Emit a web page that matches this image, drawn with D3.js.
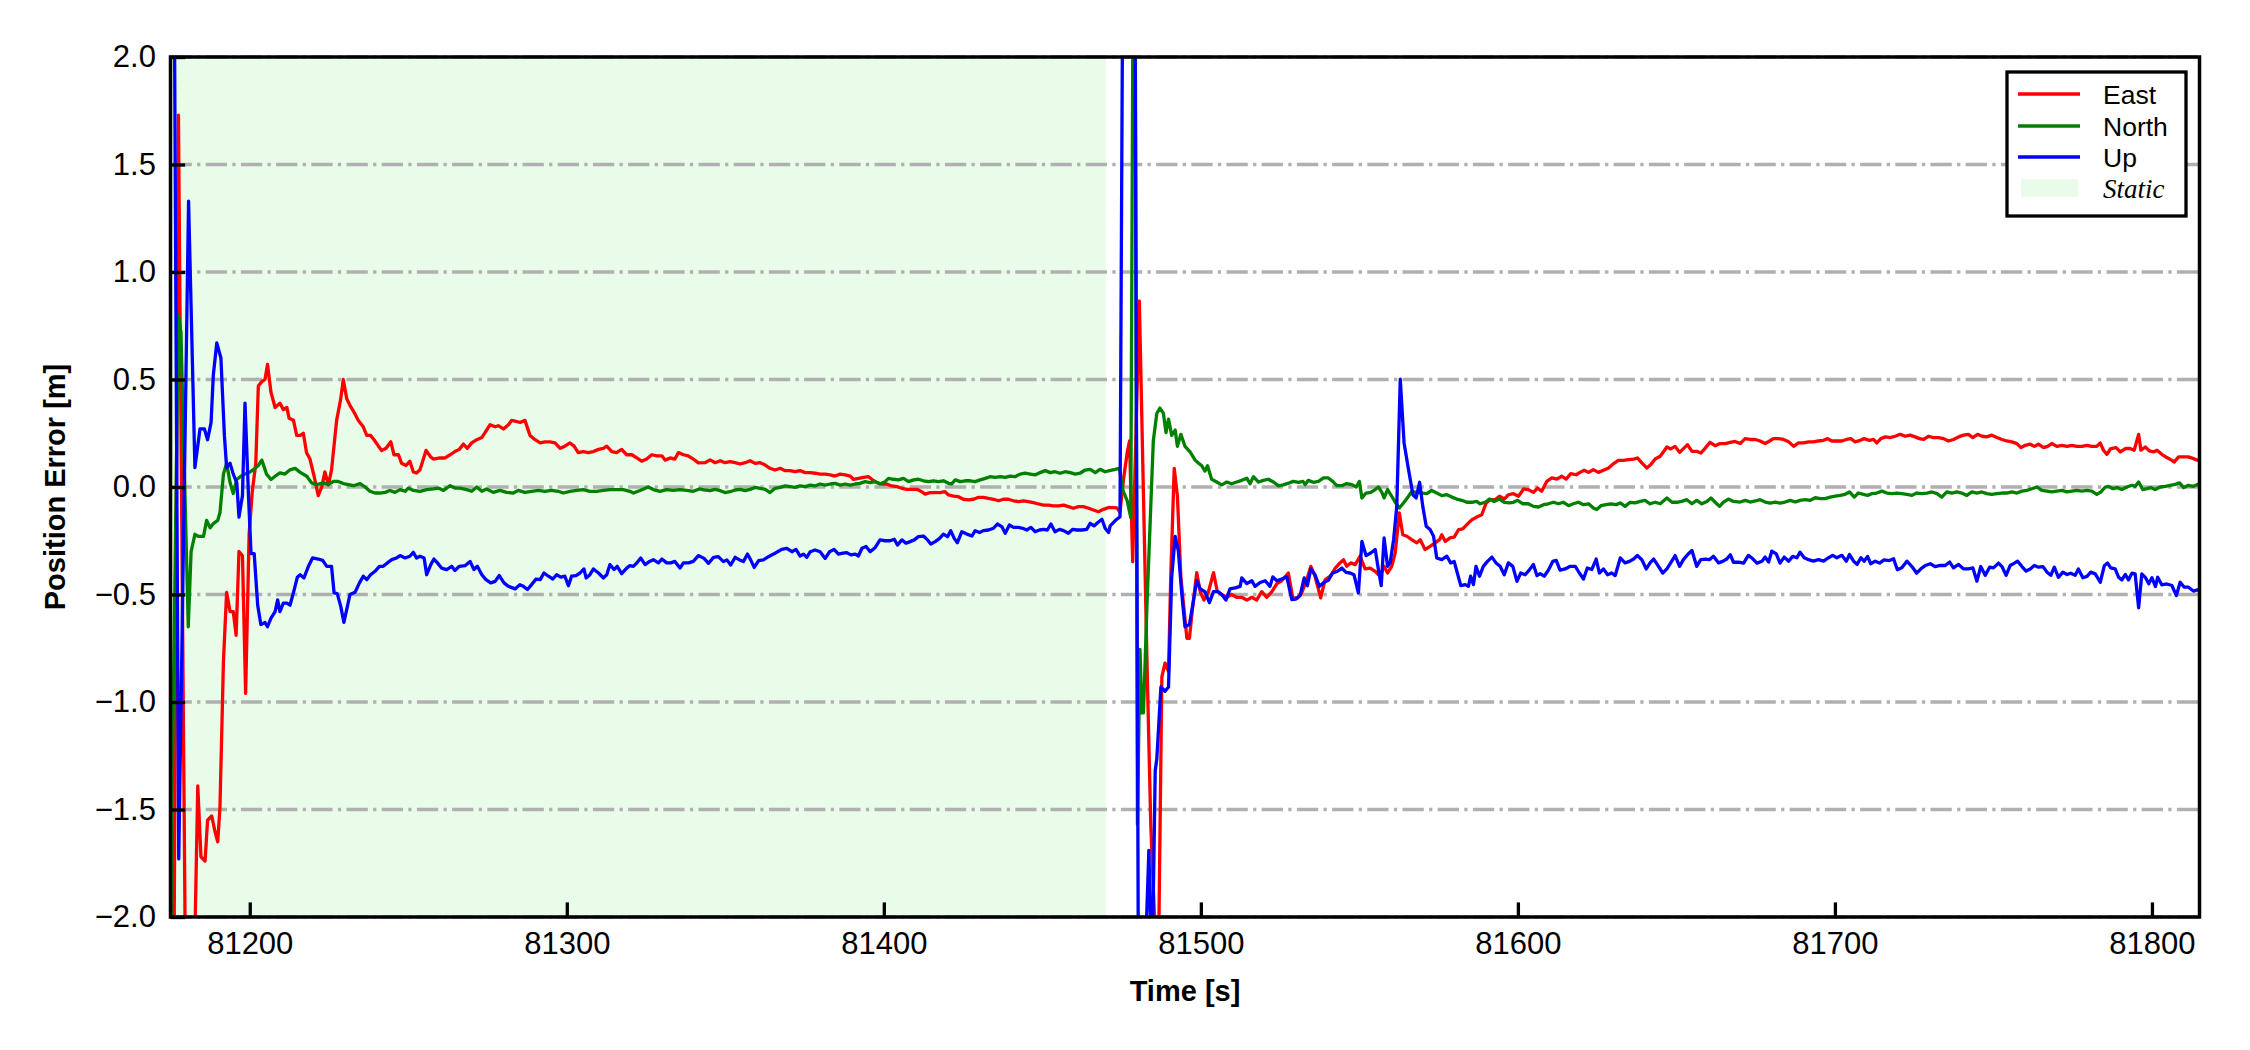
<!DOCTYPE html>
<html>
<head>
<meta charset="utf-8">
<script src="https://cdn.jsdelivr.net/npm/d3@7"></script>
<style>
  body { margin: 0; background: #ffffff; }
  text { font-family: "Liberation Sans", Arial, sans-serif; }
</style>
</head>
<body>
<div id="errorChart"></div>
<script>
// time axis is seconds of day, series times are seconds since timeStart
const timeStart = 81175;
const timeEnd = 81815;
const xTickValues = [81200, 81300, 81400, 81500, 81600, 81700, 81800];
const yTickValues = [-2.0, -1.5, -1.0, -0.5, 0.0, 0.5, 1.0, 1.5, 2.0];
const staticPeriod = [81175, 81470];
const legendLabels = ["East", "North", "Up", "Static"];

// [seconds since timeStart, position error in m]
const eastError = [
  [0,-1.57],[1.0,-2.5],[2.5,1.73],[4.8,-2.4],[7.3,-2.4],[8.6,-1.39],[9.6,-1.72],[10.9,-1.74],[11.7,-1.55],[13.0,-1.53],[14.0,-1.6],[14.9,-1.65],[15.6,-1.49],[16.7,-0.81],[17.7,-0.49],[18.8,-0.58],[19.8,-0.58],[20.7,-0.69],[21.6,-0.3],[22.7,-0.32],[23.7,-0.96],[24.8,-0.22],[25.8,-0.02],[26.9,0.11],[27.7,0.47],[28.8,0.49],[29.8,0.5],[30.6,0.57],[31.7,0.44],[33.0,0.37],[34.5,0.39],[35.6,0.36],[36.7,0.37],[37.4,0.32],[38.8,0.31],[39.8,0.24],
  [40.9,0.24],[41.9,0.25],[42.9,0.16],[44.0,0.13],[45.3,0.05],[46.6,-0.04],[47.7,0.0],[48.7,0.07],[49.8,0.01],[50.8,0.08],[52.4,0.31],[53.7,0.41],[54.5,0.5],[55.6,0.41],[56.6,0.38],[58.2,0.34],[59.2,0.31],[60.8,0.28],[61.9,0.24],[63.1,0.24],[64.2,0.22],[65.6,0.19],[66.6,0.17],[68.0,0.18],[69.5,0.21],[70.5,0.15],[71.9,0.15],[72.9,0.11],[74.3,0.1],[75.5,0.12],[76.6,0.07],[77.6,0.065],[78.7,0.08],[80.6,0.17],[82.1,0.14],[82.9,0.13],[85.0,0.135],[86.6,0.135],[88.2,0.15],[89.7,0.165],[91.1,0.175],[92.4,0.2],[93.6,0.18],[95.0,0.205],[96.6,0.22],[98.2,0.23],[99.5,0.26],[100.8,0.29],[102.4,0.28],[103.4,0.285],[105.0,0.27],[106.6,0.29],[107.6,0.31],[109.0,0.305],[110.3,0.3],[111.8,0.31],[113.4,0.24],[115.0,0.22],[116.6,0.205],[118.1,0.21],[119.7,0.21],[121.3,0.205],[122.9,0.18],[124.4,0.19],[126.0,0.205],[127.3,0.19],[128.6,0.16],[130.2,0.165],[131.8,0.16],[133.4,0.165],[135.0,0.175],[136.5,0.18],[137.6,0.19],[139.2,0.165],[140.7,0.16],[142.3,0.175],[143.9,0.15],[145.5,0.15],[147.1,0.135],[148.6,0.12],[150.2,0.13],[151.8,0.15],[153.4,0.145],[155.0,0.145],[156.0,0.125],[157.6,0.135],[159.1,0.13],[160.2,0.16],[161.8,0.15],[163.3,0.145],[164.9,0.13],[166.5,0.112],
  [168.6,0.113],[170.2,0.126],[171.8,0.113],[173.4,0.122],[174.9,0.113],[176.5,0.118],[178.1,0.113],[179.7,0.107],[181.3,0.113],[182.8,0.122],[184.4,0.11],[186.0,0.113],[187.6,0.102],[189.1,0.087],[190.7,0.079],[192.3,0.087],[193.9,0.076],[195.4,0.076],[197.0,0.071],[198.6,0.076],[200.2,0.067],[201.8,0.067],[203.3,0.064],[204.9,0.06],[206.5,0.06],[208.1,0.056],[209.6,0.051],[211.2,0.06],[212.8,0.056],[214.4,0.051],[215.4,0.036],[217.0,0.04],[218.6,0.045],[220.2,0.048],[221.2,0.036],[222.8,0.02],[224.4,0.014],[225.9,0.014],[227.5,0.005],[229.1,0.002],[230.7,-0.006],[232.3,-0.011],[233.8,-0.011],[235.4,-0.011],[237.0,-0.022],[238.0,-0.033],[239.6,-0.026],[241.2,-0.026],[242.8,-0.026],[244.3,-0.022],[245.4,-0.037],[247.0,-0.042],[248.5,-0.045],[250.1,-0.057],[251.7,-0.06],[253.3,-0.057],[254.9,-0.048],[256.4,-0.048],[258.0,-0.053],[259.6,-0.057],[261.2,-0.064],[262.7,-0.057],[264.3,-0.057],[265.9,-0.064],[267.5,-0.068],[269.1,-0.064],[270.6,-0.068],[272.2,-0.073],[273.8,-0.079],[275.4,-0.084],[276.9,-0.084],[278.5,-0.088],[280.1,-0.088],[281.7,-0.084],[283.2,-0.091],[284.8,-0.099],[286.4,-0.091],[288.0,-0.091],[289.6,-0.099],[291.1,-0.107],[292.7,-0.115],[294.3,-0.104],[295.9,-0.095],
  [298.5,-0.097],[299.5,-0.117],[300.6,0.036],[301.8,0.163],[302.5,0.214],[303.5,-0.347],[305.6,0.865],[308.0,-0.806],[309.2,-1.57],[310.6,-2.08],[311.1,-2.2],[311.8,-2.0],[312.7,-0.883],[313.7,-0.819],[314.8,-0.857],[315.5,-0.42],[316.6,0.087],[317.6,-0.041],[318.7,-0.42],[320.6,-0.704],[321.4,-0.704],[322.1,-0.602],[323.7,-0.398],[324.8,-0.487],[326.0,-0.526],[327.4,-0.487],[329.0,-0.398],[330.2,-0.487],[331.6,-0.5],[333.2,-0.513],[334.7,-0.5],[336.3,-0.513],[337.9,-0.513],[339.5,-0.526],[341.1,-0.513],[342.6,-0.526],[344.2,-0.487],[345.8,-0.513],[347.4,-0.487],[349.0,-0.449],[350.5,-0.436],
  [352.6,-0.4],[354.0,-0.516],[355.5,-0.516],[356.8,-0.493],[358.4,-0.431],[359.7,-0.369],[361.0,-0.415],[362.8,-0.516],[364.2,-0.431],[365.8,-0.415],[367.4,-0.377],[368.9,-0.353],[370.0,-0.338],[371.0,-0.369],[372.3,-0.353],[373.7,-0.361],[375.2,-0.322],[376.8,-0.381],[378.4,-0.377],[380.0,-0.392],[381.5,-0.415],[382.8,-0.369],[383.9,-0.4],[385.2,-0.369],[386.3,-0.307],[387.6,-0.121],[388.7,-0.222],[390.0,-0.229],[391.5,-0.245],[393.1,-0.26],[394.2,-0.245],[395.7,-0.291],[397.3,-0.276],[398.9,-0.26],[400.3,-0.245],[401.0,-0.222],[402.1,-0.253],[403.6,-0.237],[404.9,-0.233],[406.3,-0.198],[407.6,-0.195],[408.9,-0.175],[410.5,-0.152],[412.0,-0.14],[413.6,-0.129],[415.0,-0.074],[416.2,-0.059],[417.8,-0.059],[419.2,-0.043],[420.7,-0.056],[422.0,-0.036],[423.6,-0.031],[425.2,-0.043],[426.8,-0.009],[428.3,-0.012],[429.9,-0.025],[431.2,-0.005],[432.5,-0.02],[434.1,0.026],[435.7,0.042],[437.3,0.037],[438.9,0.05],[440.2,0.037],[441.7,0.062],[443.4,0.057],[444.6,0.068],[445.9,0.078],[447.3,0.068],[448.8,0.081],[450.4,0.068],[452.0,0.078],[453.6,0.088],[455.2,0.109],[456.7,0.124],[458.3,0.124],[459.9,0.127],[461.5,0.13],[462.7,0.135],[464.1,0.112],[465.7,0.088],[466.9,0.104],[468.3,0.13],[469.9,0.143],[472.0,0.186],[473.2,0.177],[474.6,0.189],[476.0,0.161],[477.4,0.181],[478.5,0.197],[479.9,0.166],[481.4,0.166],[482.7,0.158],[484.1,0.181],[485.6,0.208],[487.2,0.192],[488.8,0.202],[490.4,0.202],[492.0,0.208],[493.5,0.212],
  [495.1,0.202],[496.7,0.225],[498.3,0.221],[499.9,0.221],[501.4,0.214],[503.0,0.202],[504.4,0.214],[505.6,0.225],[507.2,0.225],[508.8,0.221],[510.4,0.21],[512.0,0.189],[513.5,0.205],[515.1,0.205],[516.7,0.21],[518.2,0.21],[519.8,0.214],[521.4,0.217],[522.7,0.225],[524.0,0.214],[525.6,0.214],[527.2,0.214],[528.6,0.221],[530.0,0.225],[531.4,0.21],[533.0,0.217],[534.2,0.225],[535.9,0.217],[537.2,0.221],[538.2,0.205],[539.5,0.225],[540.9,0.233],[542.4,0.23],[544.0,0.236],[545.6,0.245],[547.2,0.236],[548.7,0.241],[550.3,0.233],[551.7,0.225],[553.0,0.221],[554.5,0.236],[556.1,0.23],[557.7,0.23],[559.3,0.225],[560.8,0.214],[562.4,0.221],[564.0,0.233],[565.6,0.241],[567.1,0.245],[568.5,0.23],[570.0,0.245],[571.4,0.236],[572.9,0.233],[574.5,0.241],[576.1,0.23],[577.7,0.221],[579.2,0.214],[580.8,0.21],[582.4,0.202],[583.7,0.183],[585.0,0.194],[586.6,0.199],[587.9,0.189],[589.2,0.199],[590.8,0.183],[592.1,0.189],[593.4,0.202],[595.0,0.189],[596.6,0.194],[598.2,0.189],[599.7,0.194],[601.3,0.189],[602.9,0.189],[604.5,0.194],[606.0,0.189],[607.6,0.189],[608.7,0.205],[609.7,0.171],[610.8,0.152],[612.0,0.179],[613.7,0.183],[615.0,0.163],[616.6,0.179],[618.1,0.179],[619.4,0.171],[620.8,0.245],[621.5,0.171],[622.9,0.186],[624.2,0.168],[625.5,0.163],[626.6,0.171],[628.1,0.152],[629.7,0.137],[631.3,0.124],[632.0,0.116],[633.4,0.14],[635.0,0.14],[636.5,0.14],[638.1,0.132],[639.4,0.124],[640,0.125]
];

const northError = [
  [0,-2.4],[0.4,-1.55],[2.5,0.8],[3.3,0.72],[4.4,0.06],[5.6,-0.65],[6.5,-0.3],[7.7,-0.22],[8.8,-0.23],[10.4,-0.23],[11.4,-0.155],[12.5,-0.19],[13.5,-0.17],[14.9,-0.155],[15.6,-0.12],[16.7,0.06],[17.7,0.11],[18.8,0.02],[19.8,-0.03],[20.9,0.035],[22.2,0.05],[23.5,0.06],[25.1,0.07],[26.7,0.087],[27.7,0.1],[28.8,0.125],[30.3,0.06],[31.7,0.035],[33.0,0.05],[34.5,0.066],[36.1,0.06],[37.7,0.08],[39.3,0.087],
  [40.9,0.068],[43.0,0.05],[44.5,0.019],[46.1,0.011],[48.2,0.019],[49.8,0.011],[51.4,0.026],[52.9,0.026],[54.5,0.016],[56.1,0.011],[57.7,0.006],[59.8,0.016],[61.4,0.0],[62.9,-0.02],[64.5,-0.028],[66.1,-0.028],[67.7,-0.025],[69.2,-0.016],[70.8,-0.025],[72.4,-0.012],[74.0,-0.02],[75.0,-0.005],[76.6,-0.016],[78.7,-0.02],[80.8,-0.012],[82.9,-0.009],[84.5,-0.005],[86.1,-0.016],[88.2,0.006],[89.7,-0.005],[91.3,-0.005],[93.4,-0.012],[95.0,-0.02],[96.6,0.0],[98.2,-0.02],[99.7,-0.009],[101.8,-0.025],[103.9,-0.016],[106.0,-0.025],[108.1,-0.028],[109.7,-0.016],[111.8,-0.025],[113.9,-0.02],[116.0,-0.016],[118.1,-0.02],[120.2,-0.016],[122.3,-0.02],[123.9,-0.028],[126.0,-0.02],[128.1,-0.016],[130.2,-0.012],[132.3,-0.02],[134.4,-0.02],[136.5,-0.016],[138.6,-0.012],[140.7,-0.012],[142.8,-0.012],[144.9,-0.02],[146.0,-0.028],[148.1,-0.016],[150.7,0.0],[152.3,-0.012],[154.4,-0.02],[156.5,-0.012],[158.6,-0.016],[160.7,-0.012],[162.8,-0.016],[164.9,-0.02],[166.8,-0.009],
  [168.6,-0.014],[170.2,-0.017],[171.8,-0.011],[173.4,-0.017],[174.9,-0.026],[176.5,-0.022],[178.1,-0.014],[179.7,-0.011],[181.3,-0.017],[182.8,-0.011],[184.4,-0.002],[186.0,-0.006],[187.6,-0.011],[189.1,-0.026],[190.7,-0.006],[192.3,-0.002],[193.9,0.005],[195.4,0.002],[197.0,-0.002],[198.6,0.005],[200.2,0.002],[201.8,0.009],[203.3,0.005],[204.9,0.014],[206.5,0.009],[208.1,0.014],[209.6,0.017],[211.2,0.009],[212.8,0.014],[214.4,0.009],[216.0,0.014],[217.5,0.017],[219.1,0.025],[220.7,0.02],[222.3,0.025],[223.8,0.014],[225.4,0.025],[226.5,0.04],[228.0,0.036],[229.6,0.033],[231.2,0.04],[232.8,0.025],[234.4,0.033],[235.9,0.036],[237.5,0.029],[239.1,0.025],[240.7,0.029],[242.2,0.025],[243.8,0.029],[245.4,0.017],[246.4,0.014],[247.5,0.033],[249.1,0.025],[250.7,0.029],[252.2,0.029],[253.8,0.025],[255.4,0.033],[257.0,0.04],[258.5,0.048],[260.1,0.045],[261.7,0.048],[263.3,0.045],[264.8,0.051],[266.4,0.048],[268.0,0.06],[269.6,0.064],[271.2,0.06],[272.7,0.056],[274.3,0.067],[275.9,0.076],[277.5,0.067],[279.0,0.071],[280.6,0.064],[282.2,0.071],[283.8,0.067],[285.4,0.06],[286.9,0.064],[288.5,0.079],[290.1,0.082],[291.7,0.067],[293.2,0.082],[294.8,0.071],[296.2,0.076],
  [298.0,0.082],[299.3,0.087],[300.4,-0.015],[301.8,-0.066],[302.9,-0.143],[303.6,2.3],[304.3,2.3],[305.0,-1.57],[305.8,-0.755],[306.4,-1.05],[306.9,-1.05],[308.0,-0.551],[309.0,-0.168],[310.0,0.214],[311.1,0.342],[312.1,0.367],[313.2,0.342],[314.0,0.253],[314.8,0.316],[315.8,0.24],[316.9,0.265],[317.6,0.189],[318.7,0.245],[320.0,0.189],[321.6,0.163],[323.2,0.125],[324.2,0.112],[325.3,0.099],[326.3,0.074],[327.1,0.099],[328.4,0.036],[330.0,0.023],[331.6,0.01],[333.2,0.023],[334.7,0.015],[336.3,0.023],[337.9,0.031],[339.5,0.041],[340.5,0.015],[341.6,0.048],[343.2,0.023],[344.7,0.031],[346.3,0.036],[347.9,0.023],[349.5,0.005],[351.0,0.01],
  [352.9,0.019],[354.2,0.026],[355.8,0.022],[357.2,0.026],[357.9,0.011],[358.9,0.031],[360.5,0.022],[362.1,0.026],[363.7,0.042],[365.2,0.042],[366.6,0.026],[367.9,0.006],[369.5,0.006],[371.0,0.016],[372.6,0.011],[374.0,0.0],[375.0,0.026],[375.8,-0.051],[377.1,-0.028],[378.6,-0.025],[380.0,-0.012],[381.0,0.0],[382.1,-0.025],[382.8,-0.051],[383.9,-0.012],[385.2,-0.043],[386.3,-0.071],[387.6,-0.098],[389.1,-0.071],[390.5,-0.043],[391.5,-0.02],[393.1,-0.025],[394.7,-0.028],[396.3,-0.031],[397.8,-0.016],[399.4,-0.028],[401.0,-0.04],[402.6,-0.036],[404.2,-0.047],[405.7,-0.056],[407.3,-0.062],[408.9,-0.071],[410.5,-0.071],[412.0,-0.067],[413.1,-0.078],[414.7,-0.071],[416.0,-0.056],[417.5,-0.067],[419.2,-0.056],[420.7,-0.071],[422.3,-0.074],[423.6,-0.071],[424.9,-0.062],[426.6,-0.078],[428.3,-0.078],[429.9,-0.09],[431.5,-0.093],[433.1,-0.082],[434.6,-0.078],[436.2,-0.071],[437.8,-0.078],[439.4,-0.071],[441.0,-0.087],[442.5,-0.078],[444.1,-0.071],[445.7,-0.082],[447.3,-0.078],[448.8,-0.098],[449.9,-0.105],[451.2,-0.087],[452.8,-0.082],[454.3,-0.078],[456.0,-0.082],[457.3,-0.074],[458.8,-0.09],[460.4,-0.071],[462.0,-0.074],[463.6,-0.067],[465.1,-0.062],[466.7,-0.078],[468.3,-0.071],[469.9,-0.078],[472.0,-0.051],[473.6,-0.071],[475.1,-0.071],[476.7,-0.067],[478.3,-0.059],[479.9,-0.078],[481.4,-0.062],[483.0,-0.078],[484.6,-0.067],[485.9,-0.051],[487.2,-0.071],[488.6,-0.09],[489.8,-0.071],[491.4,-0.056],[493.0,-0.067],
  [495.1,-0.07],[496.7,-0.062],[498.3,-0.07],[499.9,-0.065],[501.4,-0.059],[503.0,-0.07],[504.6,-0.075],[506.2,-0.07],[507.7,-0.075],[509.3,-0.07],[510.9,-0.062],[512.5,-0.07],[514.0,-0.062],[515.6,-0.059],[517.2,-0.062],[518.8,-0.05],[520.4,-0.054],[521.9,-0.054],[523.5,-0.047],[525.1,-0.043],[526.7,-0.039],[528.2,-0.034],[529.6,-0.023],[531.1,-0.047],[532.4,-0.028],[534.0,-0.034],[535.3,-0.039],[536.6,-0.031],[538.2,-0.028],[539.8,-0.019],[541.4,-0.028],[543.0,-0.031],[544.5,-0.028],[546.1,-0.031],[547.7,-0.034],[549.3,-0.039],[550.8,-0.028],[552.4,-0.031],[554.0,-0.028],[555.6,-0.023],[557.2,-0.031],[558.7,-0.047],[560.3,-0.023],[561.9,-0.028],[563.5,-0.023],[565.0,-0.028],[566.6,-0.039],[568.2,-0.023],[569.8,-0.028],[571.3,-0.023],[572.9,-0.031],[574.5,-0.034],[576.1,-0.031],[577.7,-0.028],[579.2,-0.028],[580.8,-0.023],[582.4,-0.028],[584.0,-0.019],[585.5,-0.016],[587.1,-0.008],[588.7,0.0],[590.3,-0.016],[591.9,-0.019],[593.4,-0.023],[595.0,-0.019],[596.6,-0.016],[598.2,-0.023],[599.7,-0.019],[601.3,-0.016],[602.9,-0.019],[604.5,-0.016],[606.0,-0.019],[607.6,-0.034],[608.9,-0.023],[610.3,0.0],[611.3,0.003],[612.7,-0.008],[614.0,-0.003],[615.5,-0.012],[617.1,0.0],[618.7,0.008],[619.7,0.003],[620.8,0.023],[622.1,-0.012],[623.4,-0.008],[624.7,-0.003],[626.0,-0.012],[627.6,0.0],[629.2,0.003],[630.8,0.008],[632.3,0.012],[633.7,0.019],[635.0,-0.003],[636.5,0.008],[638.1,0.003],[639.4,0.012],[640,0.01]
];

const upError = [
  [0,2.6],[1.2,2.3],[2.6,-1.73],[5.7,1.33],[7.7,0.09],[9.3,0.27],[10.7,0.27],[11.7,0.22],[12.8,0.3],[13.5,0.52],[14.6,0.67],[15.9,0.6],[17.0,0.24],[17.7,0.09],[18.8,0.11],[19.8,0.06],[20.9,0.02],[21.6,-0.14],[22.7,-0.04],[23.5,0.39],[24.6,-0.04],[25.4,-0.31],[26.4,-0.31],[27.5,-0.55],[28.5,-0.64],[29.8,-0.63],[30.6,-0.65],[31.7,-0.61],[33.0,-0.58],[33.8,-0.525],[34.5,-0.58],[35.6,-0.54],[36.7,-0.54],[37.7,-0.55],[38.8,-0.49],[40.0,-0.42],
  [40.9,-0.408],[42.1,-0.423],[43.5,-0.369],[44.8,-0.33],[46.6,-0.335],[48.0,-0.341],[49.3,-0.369],[50.8,-0.369],[51.6,-0.493],[52.6,-0.496],[53.7,-0.555],[54.7,-0.63],[55.8,-0.555],[56.6,-0.5],[58.2,-0.49],[59.6,-0.446],[60.8,-0.415],[61.9,-0.431],[63.1,-0.408],[64.5,-0.392],[65.9,-0.369],[67.1,-0.369],[68.4,-0.353],[69.8,-0.338],[71.3,-0.33],[72.4,-0.319],[74.0,-0.33],[75.5,-0.322],[76.6,-0.304],[77.6,-0.33],[78.7,-0.322],[80.0,-0.33],[80.8,-0.408],[82.1,-0.361],[83.1,-0.335],[84.2,-0.353],[85.5,-0.377],[87.1,-0.384],[88.7,-0.369],[89.7,-0.388],[91.1,-0.369],[92.9,-0.366],[94.5,-0.346],[95.7,-0.384],[96.8,-0.369],[98.2,-0.408],[99.5,-0.431],[101.0,-0.446],[102.4,-0.439],[103.7,-0.412],[105.2,-0.446],[106.6,-0.462],[108.7,-0.474],[110.2,-0.454],[111.3,-0.462],[112.6,-0.477],[113.9,-0.454],[115.3,-0.428],[116.6,-0.431],[117.8,-0.4],[119.2,-0.415],[120.6,-0.428],[121.8,-0.408],[123.1,-0.419],[124.4,-0.415],[125.5,-0.459],[126.5,-0.415],[127.9,-0.412],[129.2,-0.4],[130.4,-0.381],[131.1,-0.423],[132.3,-0.408],[133.4,-0.381],[135.0,-0.4],[136.5,-0.423],[137.6,-0.408],[138.6,-0.361],[139.9,-0.384],[140.9,-0.369],[142.3,-0.403],[143.9,-0.377],[144.9,-0.366],[146.0,-0.369],[147.1,-0.353],[148.3,-0.33],[149.7,-0.361],[151.1,-0.346],[152.3,-0.338],[153.9,-0.353],[155.0,-0.335],[156.5,-0.353],[157.8,-0.353],[159.1,-0.346],[160.7,-0.377],[161.8,-0.353],[163.4,-0.353],[164.9,-0.346],[166.5,-0.319],
  [168.3,-0.332],[169.7,-0.355],[171.3,-0.327],[172.8,-0.324],[174.4,-0.347],[175.5,-0.339],[176.7,-0.363],[178.1,-0.327],[179.5,-0.339],[180.7,-0.347],[182.0,-0.312],[183.0,-0.339],[184.1,-0.374],[185.5,-0.343],[187.0,-0.339],[188.6,-0.324],[190.2,-0.312],[191.5,-0.301],[192.8,-0.29],[194.4,-0.285],[196.0,-0.301],[197.3,-0.29],[198.6,-0.321],[199.7,-0.312],[200.7,-0.327],[201.8,-0.301],[203.3,-0.293],[204.9,-0.301],[206.5,-0.332],[207.9,-0.301],[209.3,-0.29],[210.7,-0.312],[212.1,-0.308],[213.3,-0.305],[214.6,-0.316],[216.0,-0.312],[217.0,-0.321],[218.1,-0.285],[219.4,-0.277],[220.7,-0.301],[222.3,-0.281],[223.8,-0.246],[225.4,-0.25],[227.0,-0.25],[228.3,-0.243],[229.3,-0.27],[230.7,-0.246],[232.0,-0.262],[233.3,-0.254],[234.6,-0.246],[235.9,-0.231],[237.5,-0.228],[238.8,-0.246],[239.8,-0.265],[241.2,-0.254],[242.6,-0.239],[243.8,-0.219],[245.1,-0.231],[246.1,-0.203],[247.2,-0.239],[248.2,-0.259],[249.6,-0.208],[251.2,-0.219],[252.8,-0.228],[253.8,-0.203],[255.2,-0.212],[256.4,-0.203],[258.0,-0.2],[259.6,-0.192],[260.8,-0.172],[262.2,-0.184],[263.3,-0.215],[264.6,-0.177],[265.9,-0.188],[267.5,-0.188],[268.8,-0.192],[270.1,-0.2],[271.4,-0.188],[272.7,-0.208],[274.1,-0.2],[275.4,-0.197],[276.6,-0.2],[277.7,-0.172],[279.0,-0.208],[280.4,-0.197],[281.7,-0.203],[283.2,-0.215],[284.6,-0.197],[285.9,-0.2],[287.5,-0.2],[289.0,-0.197],[290.1,-0.169],[291.3,-0.181],[292.4,-0.166],[293.8,-0.15],[294.8,-0.192],[295.9,-0.212],
  [296.4,-0.181],[298.0,-0.156],[299.5,-0.138],[300.4,2.5],[302.0,2.6],[304.2,2.4],[305.3,-2.3],[307.0,-2.4],[308.6,-1.69],[309.6,-2.3],[310.6,-1.32],[311.1,-1.265],[312.4,-0.93],[313.7,-0.95],[314.8,-0.93],[315.8,-0.42],[316.9,-0.23],[317.9,-0.297],[319.0,-0.5],[320.0,-0.65],[321.4,-0.64],[322.7,-0.526],[323.7,-0.436],[324.8,-0.474],[326.3,-0.487],[327.7,-0.538],[329.0,-0.487],[330.5,-0.487],[331.6,-0.5],[332.9,-0.526],[334.2,-0.474],[335.8,-0.469],[337.4,-0.462],[337.9,-0.423],[339.5,-0.449],[341.1,-0.436],[342.1,-0.462],[343.7,-0.444],[345.3,-0.436],[346.8,-0.462],[347.7,-0.418],[349.0,-0.436],[350.5,-0.428],[352.1,-0.418],
  [353.7,-0.524],[355.0,-0.521],[356.3,-0.505],[357.6,-0.423],[358.6,-0.459],[359.7,-0.381],[361.0,-0.408],[362.4,-0.462],[363.9,-0.443],[365.2,-0.434],[366.6,-0.4],[368.1,-0.392],[369.5,-0.377],[370.8,-0.397],[372.1,-0.4],[373.3,-0.408],[374.7,-0.493],[375.8,-0.253],[377.1,-0.319],[378.6,-0.307],[380.0,-0.291],[381.0,-0.384],[381.9,-0.459],[382.8,-0.237],[383.9,-0.369],[384.7,-0.353],[385.8,-0.245],[386.8,-0.09],[387.9,0.502],[389.1,0.205],[390.5,0.081],[391.9,-0.036],[392.9,-0.051],[394.0,0.022],[395.0,-0.09],[396.1,-0.183],[397.3,-0.198],[398.4,-0.229],[399.4,-0.33],[401.0,-0.338],[402.6,-0.322],[403.8,-0.353],[404.9,-0.346],[405.9,-0.4],[407.0,-0.459],[408.4,-0.454],[409.4,-0.462],[410.1,-0.415],[411.0,-0.454],[411.8,-0.369],[412.9,-0.415],[414.1,-0.369],[415.4,-0.346],[416.8,-0.326],[418.1,-0.353],[419.4,-0.369],[420.7,-0.408],[422.0,-0.353],[423.4,-0.369],[424.7,-0.439],[425.9,-0.4],[427.3,-0.408],[428.7,-0.384],[429.9,-0.361],[431.0,-0.412],[432.0,-0.403],[433.3,-0.415],[434.6,-0.387],[436.0,-0.346],[437.1,-0.341],[438.3,-0.387],[439.9,-0.381],[441.5,-0.369],[443.1,-0.369],[444.4,-0.4],[445.7,-0.428],[446.9,-0.377],[448.3,-0.384],[449.7,-0.335],[450.7,-0.4],[452.0,-0.381],[453.3,-0.408],[454.6,-0.4],[455.7,-0.412],[457.3,-0.33],[458.8,-0.353],[460.2,-0.346],[461.5,-0.335],[462.7,-0.319],[464.1,-0.338],[465.5,-0.381],[466.7,-0.353],[467.8,-0.335],[469.0,-0.361],[470.7,-0.4],[472.0,-0.381],[473.2,-0.353],[474.6,-0.319],[476.0,-0.369],[477.2,-0.338],[478.5,-0.315],[479.9,-0.295],[481.4,-0.369],[482.7,-0.338],[484.1,-0.335],[485.4,-0.338],[486.7,-0.322],[488.3,-0.353],[489.6,-0.346],[490.9,-0.335],[492.0,-0.315],[493.0,-0.35],
  [494.6,-0.349],[496.2,-0.354],[497.7,-0.318],[499.1,-0.334],[500.4,-0.354],[502.0,-0.345],[503.0,-0.326],[504.1,-0.349],[505.1,-0.298],[506.5,-0.311],[507.7,-0.354],[509.0,-0.326],[510.4,-0.345],[511.7,-0.323],[513.0,-0.329],[514.0,-0.303],[515.3,-0.329],[516.7,-0.338],[518.2,-0.345],[519.8,-0.338],[521.4,-0.345],[523.0,-0.329],[524.3,-0.318],[525.6,-0.329],[527.2,-0.318],[528.6,-0.345],[529.6,-0.314],[530.9,-0.345],[532.0,-0.36],[533.2,-0.329],[534.2,-0.345],[535.3,-0.323],[536.3,-0.357],[537.7,-0.345],[539.1,-0.354],[540.5,-0.339],[542.2,-0.342],[543.5,-0.334],[544.7,-0.385],[546.1,-0.376],[547.7,-0.345],[549.3,-0.37],[550.8,-0.401],[552.1,-0.381],[553.5,-0.365],[555.1,-0.357],[556.6,-0.37],[558.2,-0.365],[559.8,-0.365],[561.2,-0.349],[562.4,-0.376],[564.0,-0.36],[565.6,-0.381],[567.1,-0.381],[568.5,-0.376],[569.8,-0.438],[571.0,-0.37],[572.4,-0.411],[573.8,-0.373],[575.0,-0.376],[576.6,-0.354],[577.7,-0.37],[579.0,-0.411],[580.3,-0.365],[581.6,-0.354],[582.6,-0.345],[584.0,-0.37],[585.3,-0.391],[586.6,-0.381],[587.9,-0.365],[589.2,-0.373],[590.6,-0.37],[591.9,-0.396],[593.1,-0.411],[594.2,-0.373],[595.5,-0.42],[596.9,-0.396],[598.2,-0.407],[599.4,-0.401],[600.8,-0.411],[601.8,-0.381],[603.2,-0.422],[604.5,-0.416],[605.7,-0.396],[607.1,-0.404],[608.7,-0.443],[610.0,-0.365],[611.0,-0.354],[612.0,-0.376],[613.4,-0.381],[614.5,-0.42],[615.5,-0.432],[616.6,-0.407],[617.6,-0.432],[618.7,-0.401],[619.7,-0.404],[620.8,-0.562],[621.8,-0.404],[622.9,-0.42],[624.0,-0.45],[625.0,-0.422],[626.1,-0.463],[626.8,-0.42],[628.1,-0.455],[629.7,-0.451],[631.3,-0.458],[632.7,-0.505],[633.9,-0.443],[635.2,-0.466],[636.5,-0.466],[638.1,-0.484],[639.4,-0.478],[640,-0.48]
];

const series = [
  {name: "East", values: eastError, color: "#ff0000"},
  {name: "North", values: northError, color: "#008000"},
  {name: "Up", values: upError, color: "#0000ff"}
];

let plot = {left: 170.5, right: 2199.5, top: 57, bottom: 917};
let tickLength = 14.6;
let staticFill = "#e9fce9";

function drawChart() {
  let svg = d3.select("#errorChart")
    .append("svg")
    .attr("width", 2250)
    .attr("height", 1050);

  let xScale = d3.scaleLinear().domain([timeStart, timeEnd]).range([plot.left, plot.right]);
  let yScale = d3.scaleLinear().domain([-2, 2]).range([plot.bottom, plot.top]);

  svg.append("defs").append("clipPath").attr("id", "plotClip")
    .append("rect")
    .attr("x", plot.left).attr("y", plot.top)
    .attr("width", plot.right - plot.left).attr("height", plot.bottom - plot.top);

  // static period shading
  svg.append("rect")
    .attr("x", xScale(staticPeriod[0]))
    .attr("y", plot.top)
    .attr("width", xScale(staticPeriod[1]) - xScale(staticPeriod[0]))
    .attr("height", plot.bottom - plot.top)
    .attr("fill", staticFill);

  // dash-dot grid on y ticks
  svg.append("g").selectAll("line")
    .data(yTickValues)
    .enter()
    .append("line")
    .attr("x1", plot.left).attr("x2", plot.right)
    .attr("y1", d => yScale(d)).attr("y2", d => yScale(d))
    .attr("stroke", "#b0b0b0")
    .attr("stroke-width", 3.3)
    .attr("stroke-dasharray", "21.3 5.3 3.3 5.3");

  let line = d3.line()
    .x(d => xScale(timeStart + d[0]))
    .y(d => yScale(d[1]));

  let lines = svg.append("g").attr("clip-path", "url(#plotClip)");
  for (let s of series) {
    lines.append("path")
      .attr("fill", "none")
      .attr("stroke", s.color)
      .attr("stroke-width", 3.3)
      .attr("stroke-linejoin", "round")
      .attr("d", line(s.values));
  }

  // axes with inward ticks
  let xAxis = svg.append("g")
    .attr("transform", "translate(0," + plot.bottom + ")")
    .call(d3.axisBottom(xScale).tickValues(xTickValues).tickFormat(d3.format("d"))
      .tickSize(-tickLength).tickPadding(tickLength));
  let yAxis = svg.append("g")
    .attr("transform", "translate(" + plot.left + ",0)")
    .call(d3.axisLeft(yScale).tickValues(yTickValues).tickFormat(d3.format(".1f"))
      .tickSize(-tickLength).tickPadding(tickLength));

  for (let axis of [xAxis, yAxis]) {
    axis.select(".domain").remove();
    axis.attr("font-family", null).attr("font-size", null);
    axis.selectAll(".tick line").attr("stroke", "#000").attr("stroke-width", 3.3);
    axis.selectAll(".tick text")
      .attr("fill", "#000")
      .style("font-family", "'Liberation Sans', Arial, sans-serif")
      .style("font-size", "31px");
  }

  svg.append("rect")
    .attr("x", plot.left).attr("y", plot.top)
    .attr("width", plot.right - plot.left).attr("height", plot.bottom - plot.top)
    .attr("fill", "none")
    .attr("stroke", "#000")
    .attr("stroke-width", 3.5);

  svg.append("text")
    .attr("x", (plot.left + plot.right) / 2)
    .attr("y", 1001)
    .attr("text-anchor", "middle")
    .style("font-size", "29px")
    .style("font-weight", "bold")
    .text("Time [s]");

  svg.append("text")
    .attr("transform", "translate(65," + ((plot.top + plot.bottom) / 2) + ") rotate(-90)")
    .attr("text-anchor", "middle")
    .style("font-size", "29px")
    .style("font-weight", "bold")
    .text("Position Error [m]");

  drawLegend(svg);
}

function drawLegend(svg) {
  let legend = svg.append("g").attr("transform", "translate(2007,72)");
  legend.append("rect")
    .attr("width", 179).attr("height", 144)
    .attr("fill", "#fff")
    .attr("stroke", "#000")
    .attr("stroke-width", 3.3);

  let rowY = [22, 54, 85, 116];
  series.forEach((s, i) => {
    legend.append("line")
      .attr("x1", 11).attr("x2", 73)
      .attr("y1", rowY[i]).attr("y2", rowY[i])
      .attr("stroke", s.color)
      .attr("stroke-width", 3.3);
    legend.append("text")
      .attr("x", 96).attr("y", rowY[i] + 10)
      .style("font-size", "26.5px")
      .text(legendLabels[i]);
  });

  legend.append("rect")
    .attr("x", 14).attr("y", rowY[3] - 9)
    .attr("width", 57).attr("height", 18)
    .attr("fill", staticFill);
  legend.append("text")
    .attr("x", 96).attr("y", rowY[3] + 10)
    .style("font-family", "'Liberation Serif', 'Times New Roman', serif")
    .style("font-style", "italic")
    .style("font-size", "27px")
    .text(legendLabels[3]);
}

drawChart();
</script>
</body>
</html>
